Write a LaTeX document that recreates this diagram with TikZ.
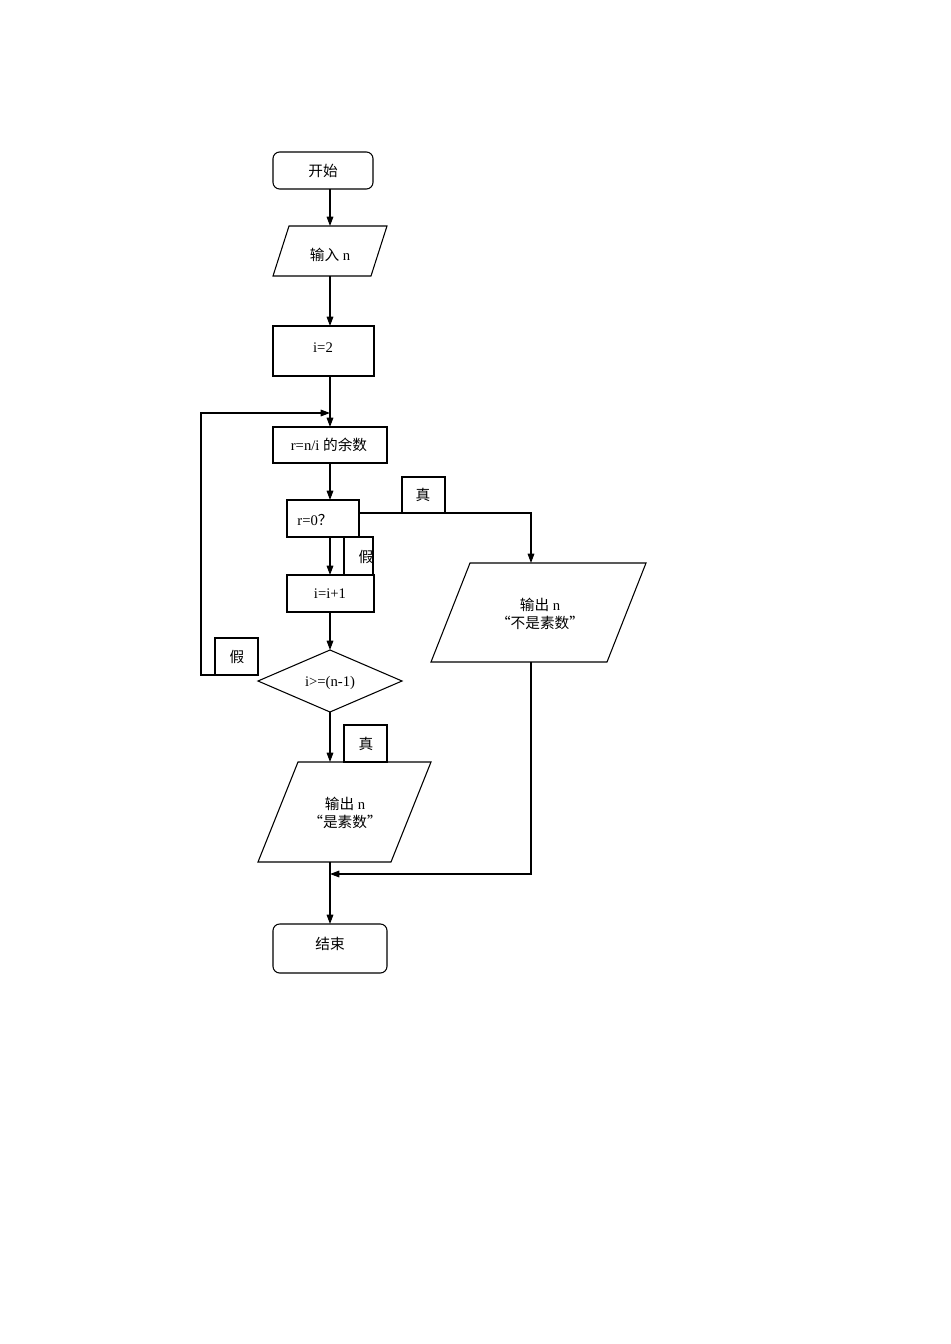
\documentclass[tikz,border=0pt]{standalone}
\usepackage{fontspec}
\setmainfont{Liberation Serif}
\newfontfamily\cjk{Noto Sans CJK SC}
\usetikzlibrary{shapes.geometric,arrows.meta}
\begin{document}
\begin{tikzpicture}[x=0.75pt,y=-0.75pt,
  font=\fontsize{11}{14}\selectfont,
  box/.style={draw,line width=0.8pt},
  lbl/.style={font=\fontsize{11}{14}\selectfont\cjk},
  arr/.style={-{Triangle[length=7pt,width=5pt]},line width=0.8pt},
  ln/.style={line width=0.8pt}]
\useasboundingbox (0,0) rectangle (950,1344);
% start
\draw[box,rounded corners=5pt] (273,152) rectangle (373,189);
\node (start) at (323,171) {\cjk 开始};
\coordinate (startb) at (330,189);
% input
\draw[box] (289,226) -- (387,226) -- (371,276) -- (273,276) -- cycle;
\node (in) at (330,255) {{\cjk 输入} n};
\coordinate (int) at (330,226); \coordinate (inb) at (330,276);
% i=2
\draw[box] (273,326) rectangle (374,376);
\node (i2) at (323,348) {i=2};
\coordinate (i2t) at (330,326); \coordinate (i2b) at (330,376);
% r
\draw[box] (273,427) rectangle (387,463);
\node (r) at (329,445) {r=n/i {\cjk 的余数}};
\coordinate (rt) at (330,427); \coordinate (rb) at (330,463);
% r=0?
\draw[box] (287,500) rectangle (359,537);
\node (q) at (315,520) {r=0{\cjk ？}};
\coordinate (qt) at (330,500); \coordinate (qb) at (330,537); \coordinate (qr) at (359,513);
% labels
\draw[box] (402,477) rectangle (445,513); \node[lbl] (t1) at (423,495) {真};
\draw[box] (344,537) rectangle (373,575); \node[lbl] (f1) at (366,557) {假};
\draw[box] (215,638) rectangle (258,675); \node[lbl] (f2) at (237,657) {假};
\draw[box] (344,725) rectangle (387,762); \node[lbl] (t2) at (366,744) {真};
% i=i+1
\draw[box] (287,575) rectangle (374,612);
\node (inc) at (330,594) {i=i+1};
\coordinate (inct) at (330,575); \coordinate (incb) at (330,612);
% diamond
\draw[box] (258,681) -- (330,650) -- (402,681) -- (330,712) -- cycle;
\node (d) at (330,683) {i>=(n-1)};
\coordinate (dt) at (330,650); \coordinate (db) at (330,712); \coordinate (dl) at (258,675);
% not prime output
\draw[box] (470,563) -- (646,563) -- (607,662) -- (431,662) -- cycle;
\node[align=center] (np) at (540,614) {{\cjk 输出} n\\[-1pt]{\cjk “不是素数”}};
\coordinate (npt) at (531,563); \coordinate (npb) at (531,662);
% prime output
\draw[box] (298,762) -- (431,762) -- (391,862) -- (258,862) -- cycle;
\node[align=center] (p) at (345,813) {{\cjk 输出} n\\[-1pt]{\cjk “是素数”}};
\coordinate (pt) at (330,762); \coordinate (pb) at (330,862);
% end
\draw[box,rounded corners=5pt] (273,924) rectangle (387,973);
\node (end) at (330,944) {\cjk 结束};
\coordinate (endt) at (330,924);
\coordinate (join) at (330,874);
\coordinate (loop) at (330,413);
% connectors
\draw[arr] (startb) -- (int);
\draw[arr] (inb) -- (i2t);
\draw[arr] (i2b) -- (rt);
\draw[arr] (rb) -- (qt);
\draw[arr] (qb) -- (inct);
\draw[arr] (incb) -- (dt);
\draw[arr] (db) -- (pt);
\draw[arr] (qr) -| (npt);
\draw[arr] (npb) |- (join);
\draw[ln] (pb) -- (join);
\draw[arr] (join) -- (endt);
\draw[arr] (dl) -- (201,675) -- (201,413) -- (loop);
\end{tikzpicture}
\end{document}
